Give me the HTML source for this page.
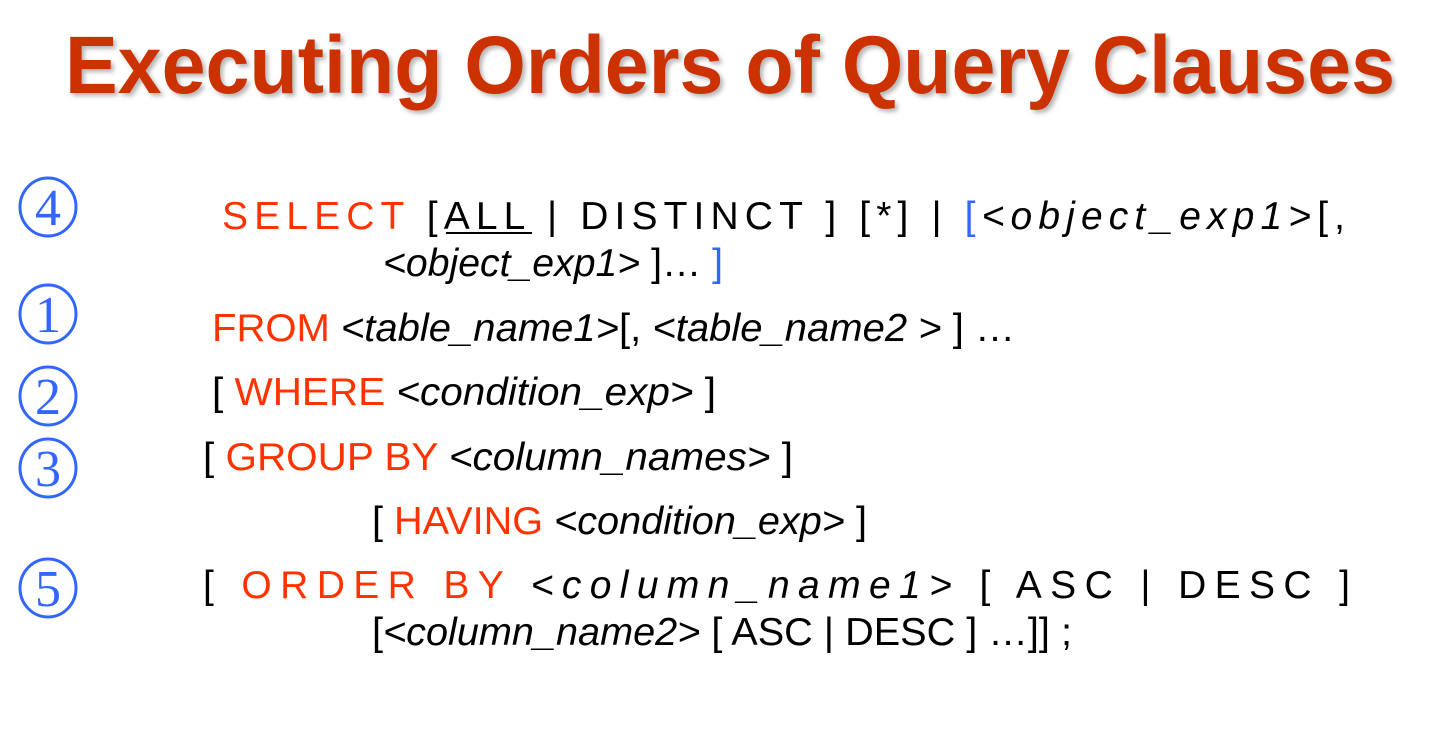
<!DOCTYPE html>
<html><head><meta charset="utf-8"><style>
html,body{margin:0;padding:0;background:#fff;width:1450px;height:739px;overflow:hidden}
svg{display:block}
.t{font-family:"Liberation Sans",Arial,sans-serif;font-size:39px;fill:#000}
.r{fill:#ff3300}
.b{fill:#3366ff}
.i{font-style:italic}
.c{font-family:"Liberation Serif",serif;font-size:52px;fill:#3366ff}
</style></head><body>
<svg width="1450" height="739" viewBox="0 0 1450 739">
<defs><filter id="sh" x="-5%" y="-5%" width="110%" height="120%"><feDropShadow dx="3" dy="3" stdDeviation="2" flood-color="#888" flood-opacity="0.6"/></filter></defs>
<text x="65" y="93" textLength="1330" lengthAdjust="spacingAndGlyphs" filter="url(#sh)" style="font-family:'Liberation Sans',Arial,sans-serif;font-weight:bold;font-size:82px;fill:#cc3300">Executing Orders of Query Clauses</text>

<g fill="none" stroke="#3366ff" stroke-width="3">
<ellipse cx="48" cy="207" rx="28" ry="29"/>
<ellipse cx="48" cy="314" rx="28" ry="29"/>
<ellipse cx="48" cy="396" rx="28" ry="29"/>
<ellipse cx="48" cy="468" rx="28" ry="29"/>
<ellipse cx="48" cy="588" rx="28" ry="29"/>
</g>
<text class="c" x="48" y="225" text-anchor="middle">4</text>
<text class="c" x="48" y="332" text-anchor="middle">1</text>
<text class="c" x="48" y="414" text-anchor="middle">2</text>
<text class="c" x="48" y="486" text-anchor="middle">3</text>
<text class="c" x="48" y="606" text-anchor="middle">5</text>

<text class="t" x="222" y="229" textLength="1123" lengthAdjust="spacing"><tspan class="r">SELECT</tspan> [ALL | DISTINCT ] [*] | <tspan class="b">[</tspan><tspan class="i">&lt;object_exp1&gt;</tspan>[,</text>
<line x1="446" y1="233" x2="532" y2="233" stroke="#000" stroke-width="2"/>
<text class="t" x="383" y="276" textLength="340" lengthAdjust="spacingAndGlyphs"><tspan class="i">&lt;object_exp1&gt;</tspan> ]… <tspan class="b">]</tspan></text>
<text class="t" x="212" y="341" textLength="803" lengthAdjust="spacingAndGlyphs"><tspan class="r">FROM</tspan>  <tspan class="i">&lt;table_name1&gt;</tspan>[, <tspan class="i">&lt;table_name2 &gt;</tspan> ] …</text>
<text class="t" x="212" y="405" textLength="504" lengthAdjust="spacingAndGlyphs">[ <tspan class="r">WHERE</tspan>  <tspan class="i">&lt;condition_exp&gt;</tspan> ]</text>
<text class="t" x="203" y="470" textLength="590" lengthAdjust="spacingAndGlyphs">[ <tspan class="r">GROUP BY</tspan>  <tspan class="i">&lt;column_names&gt;</tspan> ]</text>
<text class="t" x="372" y="534" textLength="495" lengthAdjust="spacingAndGlyphs">[ <tspan class="r">HAVING</tspan> <tspan class="i">&lt;condition_exp&gt;</tspan> ]</text>
<text class="t" x="203" y="598" textLength="1147" lengthAdjust="spacing">[ <tspan class="r">ORDER BY</tspan>  <tspan class="i">&lt;column_name1&gt;</tspan> [ ASC | DESC ]</text>
<text class="t" x="372" y="645" textLength="700" lengthAdjust="spacingAndGlyphs">[<tspan class="i">&lt;column_name2&gt;</tspan> [ ASC | DESC ] …]] ;</text>
</svg>
</body></html>
